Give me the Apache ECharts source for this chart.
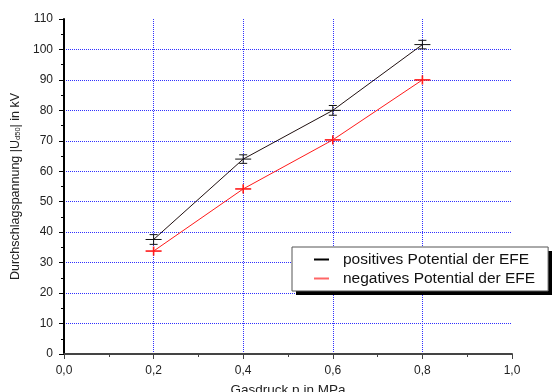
<!DOCTYPE html>
<html><head><meta charset="utf-8">
<script src="https://cdn.jsdelivr.net/npm/echarts@6/dist/echarts.min.js"></script>
<style>html,body{margin:0;padding:0;background:#fff}#c{width:552px;height:392px}</style>
</head><body><div id="c"></div>
<script>
const pressure = [0.2, 0.4, 0.6, 0.8];
const posValues = [37.6, 64.0, 80.0, 101.6];
const negValues = [33.8, 54.2, 70.3, 90.0];
const posErr = [1.6, 1.4, 1.6, 1.4];
const negErr = [1.5, 1.5, 1.5, 1.5];
const posName = 'positives Potential der EFE';
const negName = 'negatives Potential der EFE';

function markerSeries(vals, errs, color, lw, capped) {
  return {
    type: 'custom', silent: true, z: 5,
    data: pressure.map((p, i) => [p, vals[i], errs[i]]),
    renderItem: function (params, api) {
      const c = api.coord([api.value(0), api.value(1)]);
      const top = api.coord([api.value(0), api.value(1) + api.value(2)]);
      const bot = api.coord([api.value(0), api.value(1) - api.value(2)]);
      const st = { stroke: color, lineWidth: lw, fill: null };
      const ch = [
        { type: 'line', shape: { x1: c[0] - 8, y1: c[1], x2: c[0] + 8, y2: c[1] }, style: st },
        { type: 'line', shape: { x1: c[0], y1: top[1], x2: c[0], y2: bot[1] }, style: st }
      ];
      if (capped) {
        ch.push({ type: 'line', shape: { x1: c[0] - 4, y1: top[1], x2: c[0] + 4, y2: top[1] }, style: st });
        ch.push({ type: 'line', shape: { x1: c[0] - 4, y1: bot[1], x2: c[0] + 4, y2: bot[1] }, style: st });
      }
      return { type: 'group', children: ch };
    }
  };
}

const chart = echarts.init(document.getElementById('c'), null, { renderer: 'canvas' });
chart.setOption({
  animation: false,
  backgroundColor: '#fff',
  textStyle: { fontFamily: 'Liberation Sans, Arial, sans-serif' },
  grid: { left: 64, right: 40, top: 19, bottom: 38, containLabel: false, outerBoundsMode: 'none' },
  graphic: [
    { type: 'rect', left: 296, top: 251, shape: { width: 258, height: 44 }, style: { fill: '#000' }, z: 1, silent: true }
  ],
  xAxis: {
    type: 'value', min: 0, max: 1, interval: 0.2,
    name: 'Gasdruck p in MPa', nameLocation: 'middle', nameGap: 29,
    nameTextStyle: { fontSize: 13.5, color: '#222' },
    axisLine: { onZero: false, lineStyle: { color: '#444', width: 2 } },
    axisTick: { show: true, inside: false, length: 5, lineStyle: { color: '#444', width: 1 } },
    minorTick: { show: true, splitNumber: 2, length: 3, lineStyle: { color: '#444' } },
    axisLabel: { fontSize: 12, color: '#222', margin: 11, formatter: v => v.toFixed(1).replace('.', ',') },
    splitLine: { show: true, showMinLine: false, showMaxLine: false, lineStyle: { color: '#3030ff', type: [1, 1], width: 1 } }
  },
  yAxis: {
    type: 'value', min: 0, max: 110, interval: 10,
    name: '{a|Durchschlagspannung |U}{s|d50}{a|| in kV}', nameLocation: 'middle', nameGap: 41,
    nameTextStyle: { rich: { a: { fontSize: 12.5, color: '#222' }, s: { fontSize: 7.5, color: '#222', verticalAlign: 'bottom', padding: [6, 0, 0, 0] } } },
    axisLine: { onZero: false, lineStyle: { color: '#000', width: 2 } },
    axisTick: { show: true, inside: false, length: 5, lineStyle: { color: '#000', width: 1 } },
    minorTick: { show: true, splitNumber: 2, length: 3, lineStyle: { color: '#000' } },
    axisLabel: { fontSize: 12, color: '#222', margin: 11 },
    splitLine: { show: true, showMinLine: false, showMaxLine: false, lineStyle: { color: '#3030ff', type: [1, 1], width: 1 } }
  },
  legend: {
    orient: 'vertical', left: 292, top: 247,
    padding: [4, 13, 4, 22], itemGap: 2, itemWidth: 15, itemHeight: 2, icon: 'rect',
    backgroundColor: '#fff', borderColor: '#555', borderWidth: 1, borderRadius: 0,
    textStyle: { fontSize: 15.5, color: '#111', padding: [0, 0, 0, 9], lineHeight: 17 },
    data: [posName, negName]
  },
  series: [
    { name: posName, type: 'line', data: pressure.map((p, i) => [p, posValues[i]]), symbol: 'none', lineStyle: { color: '#201010', width: 1 }, itemStyle: { color: '#000' } },
    { name: negName, type: 'line', data: pressure.map((p, i) => [p, negValues[i]]), symbol: 'none', lineStyle: { color: '#ff1a1a', width: 1 }, itemStyle: { color: '#ff6666' } },
    markerSeries(posValues, posErr, '#111', 1, true),
    markerSeries(negValues, negErr, '#ff1a1a', 1.6, false)
  ]
});
</script></body></html>
